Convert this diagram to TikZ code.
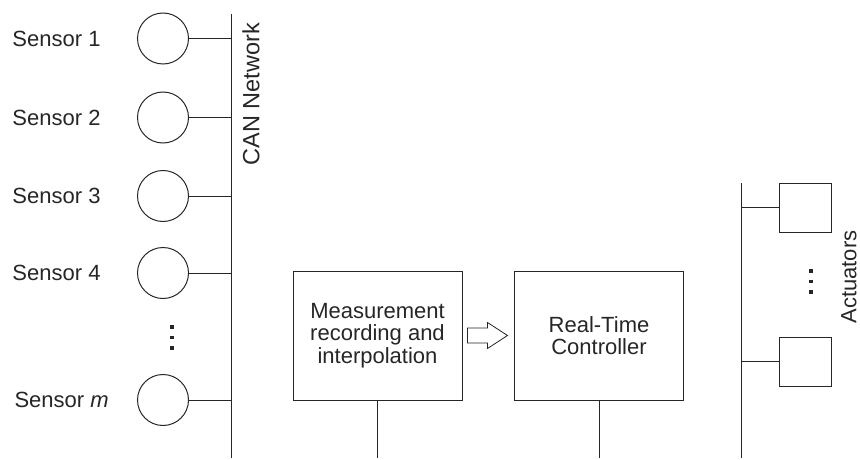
\documentclass[tikz,border=0pt]{standalone}
\usepackage{fontspec}
\setmainfont{Liberation Sans}
\usetikzlibrary{calc}
\begin{document}
\begin{tikzpicture}[x=1pt,y=-1pt, line width=1pt, draw=black!85,
  lbl/.style={font=\fontsize{22}{22.5}\selectfont, inner sep=0pt, text=black!85},
  sensor/.style={circle, draw, minimum size=51pt, inner sep=0pt},
  blk/.style={draw, minimum width=169pt, minimum height=129pt, inner sep=0pt, align=center, font=\fontsize{22}{22.5}\selectfont, text=black!85},
  act/.style={draw, minimum width=52pt, minimum height=49pt, inner sep=0pt},
  sq/.style={fill=black!85, minimum size=3.6pt, inner sep=0pt}]
\useasboundingbox (0,0) rectangle (860,460);

% CAN bus
\coordinate (cantop) at (231,14);
\coordinate (canbot) at (231,458);
\draw (cantop) -- (canbot);
\node[lbl, rotate=90, font=\fontsize{23.5}{24}\selectfont] (can) at (251,94) {CAN Network};

% sensors
\node[sensor] (s1) at (163,38.5) {};
\node[sensor] (s2) at (163,117.5) {};
\node[sensor] (s3) at (163,196) {};
\node[sensor] (s4) at (163,273) {};
\node[sensor] (sm) at (163,400) {};
\foreach \s in {s1,s2,s3,s4,sm} \draw (\s.east) -- (\s.east -| cantop);

\node[lbl, anchor=west] (l1) at (12,38.5) {Sensor 1};
\node[lbl, anchor=west] (l2) at (12,117.5) {Sensor 2};
\node[lbl, anchor=west] (l3) at (12,196) {Sensor 3};
\node[lbl, anchor=west] (l4) at (12,273) {Sensor 4};
\node[lbl, anchor=west] (lm) at (14,400) {Sensor \textit{m}};

\node[sq] (d1) at (172,327) {};
\node[sq] (d2) at (172,337.5) {};
\node[sq] (d3) at (172,348) {};

% blocks
\node[blk] (meas) at (377.5,335.5) {Measurement\\recording and\\interpolation};
\node[blk] (rtc) at (599,335.5) {Real-Time\\Controller};
\coordinate (measbot) at (377.5,458);
\coordinate (rtcbot) at (599,458);
\draw (meas.south) -- (measbot);
\draw (rtc.south) -- (rtcbot);

% hollow arrow
\draw[line width=0.8pt]
  ($(meas.east)+(5,-7.5)$) -- ++(20,0) -- ++(0,-5.5) -- ++(20,13) -- ++(-20,13) -- ++(0,-5.5) -- ++(-20,0) -- cycle;

% actuators
\coordinate (acttop) at (741,183);
\coordinate (actbot) at (741,458);
\draw (acttop) -- (actbot);
\node[act] (a1) at (805,207.5) {};
\node[act] (a2) at (805,361.5) {};
\draw (a1.west) -- (a1.west -| acttop);
\draw (a2.west) -- (a2.west -| acttop);
\node[sq] (e1) at (811,271) {};
\node[sq] (e2) at (811,281.5) {};
\node[sq] (e3) at (811,292) {};
\node[lbl, rotate=90] (actl) at (849,277) {Actuators};
\end{tikzpicture}
\end{document}
